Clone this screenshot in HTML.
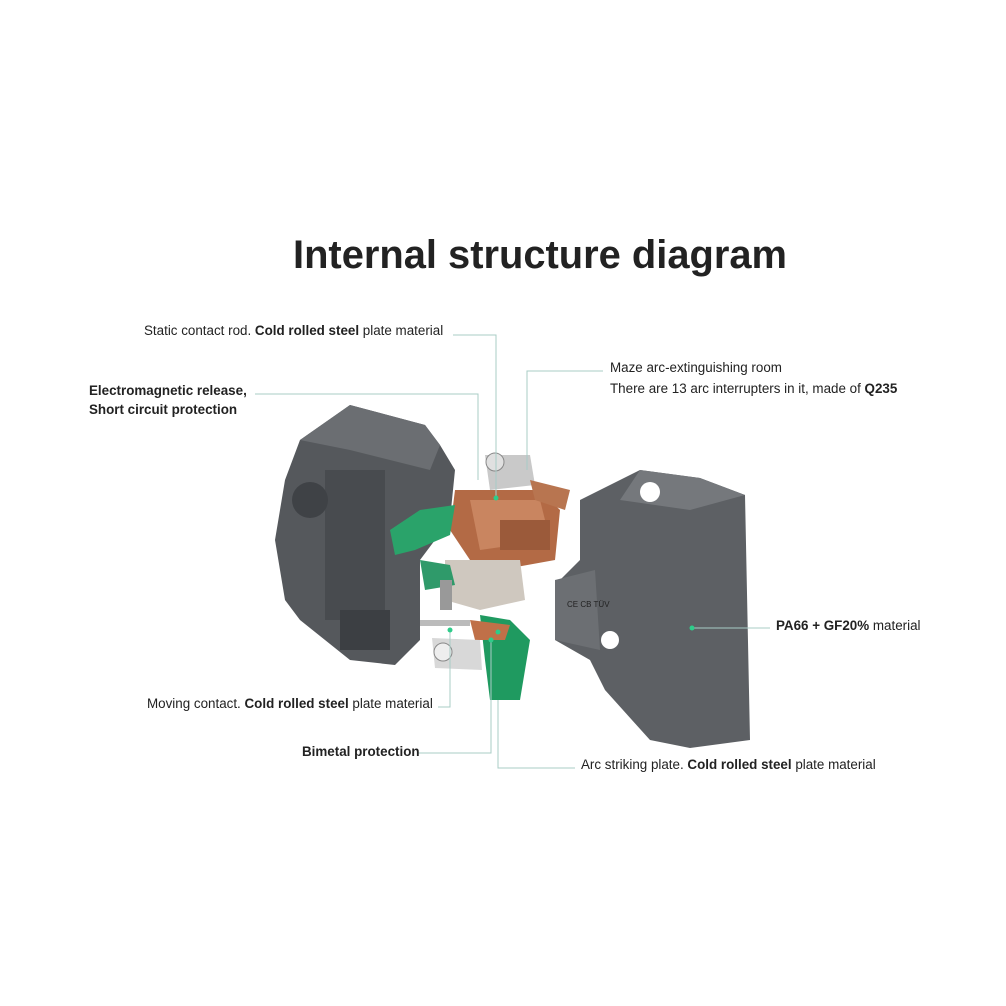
<!DOCTYPE html>
<html><head><style>
body{margin:0;background:#fff;}
svg{display:block}
text{font-family:"Liberation Sans",Arial,sans-serif;fill:#222}
</style></head><body>
<svg width="1006" height="1006" viewBox="0 0 1006 1006">
<rect width="1006" height="1006" fill="#fff"/>
<text x="540" y="268" text-anchor="middle" font-size="40" font-weight="bold" fill="#1a1a1a" textLength="494" lengthAdjust="spacingAndGlyphs">Internal structure diagram</text>

<!-- left housing -->
<polygon points="300,440 350,405 425,425 440,445 455,470 450,520 420,560 420,640 395,665 350,660 300,620 285,600 275,540 285,480" fill="#55585c"/>
<polygon points="300,440 350,405 425,425 440,445 430,470 350,450" fill="#6b6e72"/>
<rect x="325" y="470" width="60" height="150" fill="#484b4f"/>
<circle cx="310" cy="500" r="18" fill="#3f4246"/>
<rect x="340" y="610" width="50" height="40" fill="#3c3f43"/>

<!-- right housing -->
<polygon points="580,500 640,470 700,478 745,495 750,740 690,748 650,740 605,690 590,660 555,640 560,580 580,560" fill="#5d6064"/>
<polygon points="640,470 700,478 745,495 690,510 620,500" fill="#75787c"/>
<polygon points="555,580 595,570 600,650 555,640" fill="#6c6f73"/>
<circle cx="650" cy="492" r="10" fill="#fff"/>
<circle cx="610" cy="640" r="9" fill="#fff"/>
<text x="567" y="607" font-size="8" fill="#ddd">CE CB TÜV</text>

<!-- center parts -->
<polygon points="455,490 540,490 560,510 555,560 500,570 470,560 450,530" fill="#b36a45"/>
<polygon points="470,500 540,500 550,540 480,550" fill="#c98560"/>
<rect x="500" y="520" width="50" height="30" fill="#9b5a3a"/>
<polygon points="485,455 530,455 535,485 490,490" fill="#c9c9c9"/>
<circle cx="495" cy="462" r="9" fill="#e0e0e0" stroke="#888"/>
<polygon points="530,480 570,490 565,510 535,500" fill="#b87550"/>
<polygon points="445,560 520,560 525,600 480,610 445,600" fill="#cfc8bf"/>
<polygon points="390,530 420,510 455,505 450,535 415,550 395,555" fill="#2aa36a"/>
<polygon points="420,560 450,565 455,585 425,590" fill="#2f9a6a"/>
<polygon points="480,615 510,620 530,640 520,700 490,700 485,660" fill="#1f9a60"/>
<polygon points="470,620 510,625 505,640 475,640" fill="#c07048"/>
<polygon points="432,638 480,640 482,670 435,668" fill="#d8d8d8"/>
<circle cx="443" cy="652" r="9" fill="#eee" stroke="#888"/>
<rect x="420" y="620" width="50" height="6" fill="#bbb"/>
<rect x="440" y="580" width="12" height="30" fill="#999"/>

<!-- leader lines -->
<g stroke="#a8ccc6" stroke-width="1" fill="none">
<polyline points="453,335 496,335 496,498"/>
<polyline points="255,394 478,394 478,480"/>
<polyline points="603,371 527,371 527,470"/>
<polyline points="692,628 770,628"/>
<polyline points="438,707 450,707 450,630"/>
<polyline points="418,753 491,753 491,640"/>
<polyline points="575,768 498,768 498,700"/>
</g>
<g fill="#2ecc8a">
<circle cx="496" cy="498" r="2.5"/><circle cx="450" cy="630" r="2.5"/><circle cx="491" cy="640" r="2.5"/><circle cx="498" cy="632" r="2.5"/><circle cx="692" cy="628" r="2.5"/>
</g>

<g font-size="13.4">
<text x="144" y="335">Static contact rod. <tspan font-weight="bold">Cold rolled steel</tspan> plate material</text>
<text x="89" y="395" font-weight="bold">Electromagnetic release,</text>
<text x="89" y="414" font-weight="bold">Short circuit protection</text>
<text x="610" y="372">Maze arc-extinguishing room</text>
<text x="610" y="393">There are 13 arc interrupters in it, made of <tspan font-weight="bold">Q235</tspan></text>
<text x="776" y="630"><tspan font-weight="bold">PA66 + GF20%</tspan> material</text>
<text x="147" y="708">Moving contact. <tspan font-weight="bold">Cold rolled steel</tspan> plate material</text>
<text x="302" y="756" font-weight="bold">Bimetal protection</text>
<text x="581" y="769">Arc striking plate. <tspan font-weight="bold">Cold rolled steel</tspan> plate material</text>
</g>
</svg>
</body></html>
